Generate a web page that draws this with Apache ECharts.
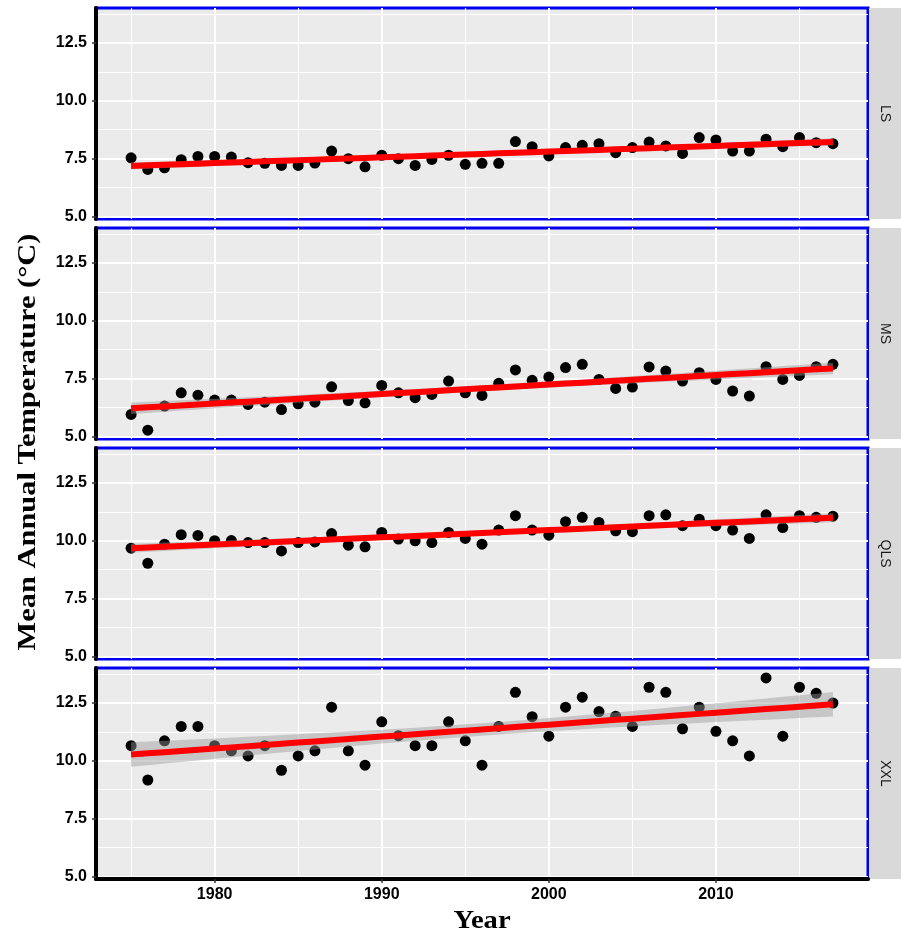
<!DOCTYPE html>
<html><head><meta charset="utf-8">
<script src="https://cdn.jsdelivr.net/npm/echarts@6/dist/echarts.min.js"></script>
<style>html,body{margin:0;padding:0;background:#fff}#c{width:901px;height:934px}</style>
</head><body><div id="c"></div>
<script>
// ---------- data ----------
const years = [1975,1976,1977,1978,1979,1980,1981,1982,1983,1984,1985,1986,1987,1988,1989,1990,1991,1992,1993,1994,1995,1996,1997,1998,1999,2000,2001,2002,2003,2004,2005,2006,2007,2008,2009,2010,2011,2012,2013,2014,2015,2016,2017];
const panels = ['LS','MS','QLS','XXL'];
const LS  = [7.54,7.04,7.11,7.46,7.60,7.60,7.57,7.33,7.30,7.21,7.21,7.31,7.83,7.50,7.15,7.65,7.50,7.21,7.47,7.65,7.26,7.30,7.30,8.24,8.02,7.62,7.98,8.08,8.15,7.76,7.98,8.22,8.05,7.73,8.41,8.31,7.83,7.83,8.34,8.02,8.41,8.19,8.15];
const MS  = [5.96,5.28,6.32,6.89,6.79,6.58,6.58,6.39,6.49,6.17,6.42,6.49,7.15,6.56,6.46,7.21,6.89,6.68,6.82,7.40,6.89,6.78,7.30,7.88,7.43,7.57,7.98,8.12,7.47,7.08,7.14,8.01,7.83,7.40,7.76,7.47,6.97,6.75,8.02,7.47,7.64,8.02,8.12];
const QLS = [9.68,9.03,9.85,10.26,10.23,10.00,10.01,9.92,9.92,9.56,9.92,9.95,10.31,9.81,9.74,10.36,10.07,10.00,9.92,10.36,10.10,9.85,10.46,11.08,10.46,10.24,10.82,11.01,10.79,10.43,10.39,11.08,11.12,10.65,10.93,10.65,10.46,10.10,11.12,10.57,11.08,11.01,11.06];
const XXL = [10.65,9.17,10.86,11.48,11.48,10.65,10.43,10.21,10.65,9.59,10.21,10.43,12.31,10.43,9.81,11.68,11.08,10.65,10.65,11.68,10.86,9.81,11.48,12.95,11.90,11.06,12.31,12.74,12.12,11.92,11.48,13.17,12.95,11.38,12.31,11.27,10.86,10.21,13.57,11.06,13.17,12.91,12.49];
const yTicks = [5.0, 7.5, 10.0, 12.5];
const yMinor = [6.25, 8.75, 11.25, 13.75];
const xTicks = [1980, 1990, 2000, 2010];
const xMinor = [1975, 1985, 1995, 2005, 2015];
const yTitle = 'Mean Annual Temperature (°C)';
const xTitle = 'Year';
const seriesVals = [LS, MS, QLS, XXL];

// ---------- linear fit with 95% CI (like geom_smooth(method='lm')) ----------
function lmFit(xs, ys) {
  const n = xs.length;
  const xb = xs.reduce((a, b) => a + b, 0) / n;
  const yb = ys.reduce((a, b) => a + b, 0) / n;
  let sxx = 0, sxy = 0;
  for (let i = 0; i < n; i++) { sxx += (xs[i] - xb) ** 2; sxy += (xs[i] - xb) * (ys[i] - yb); }
  const b = sxy / sxx, a = yb - b * xb;
  let sse = 0;
  for (let i = 0; i < n; i++) sse += (ys[i] - (a + b * xs[i])) ** 2;
  const s = Math.sqrt(sse / (n - 2));
  const t = 2.0195; // t(0.975, df=41)
  return xs.map(x => {
    const yh = a + b * x;
    const se = s * Math.sqrt(1 / n + (x - xb) ** 2 / sxx);
    return { x, yh, lo: yh - t * se, hi: yh + t * se };
  });
}

// ---------- layout ----------
const L = 96, W = 772, H = 211, GAP = 220, T0 = 8;
const FONT = 'Liberation Sans, Arial, sans-serif';
const SERIF = 'Liberation Serif, Times New Roman, serif';

const grids = [], xAxes = [], yAxes = [], series = [], graphics = [];
panels.forEach((name, i) => {
  const top = T0 + GAP * i;
  const last = i === panels.length - 1;
  grids.push({ left: L, width: W, top: top, height: H, show: true,
    backgroundColor: '#EBEBEB', borderColor: '#0000F0', borderWidth: 3 });
  xAxes.push({ type: 'value', gridIndex: i, min: 1972.9, max: 2019.1, z: 3,
    splitLine: { show: false },
    axisLine: { show: last, onZero: false, lineStyle: { color: '#000', width: 4 } },
    axisTick: { show: last, customValues: xTicks, length: 4, lineStyle: { color: '#333', width: 1.5 } },
    axisLabel: { show: last, customValues: xTicks, margin: 8, formatter: v => String(v),
      color: '#000', fontWeight: 'bold', fontSize: 16, fontFamily: FONT } });
  yAxes.push({ type: 'value', gridIndex: i, min: 4.9, max: 14.0, z: 3,
    splitLine: { show: false },
    axisLine: { show: true, onZero: false, lineStyle: { color: '#000', width: 4 } },
    axisTick: { show: true, customValues: yTicks, length: 4, lineStyle: { color: '#333', width: 1.5 } },
    axisLabel: { customValues: yTicks, margin: 9, formatter: v => v.toFixed(1),
      color: '#000', fontWeight: 'bold', fontSize: 16, fontFamily: FONT } });

  const ys = seriesVals[i];
  const gridLines = [];
  yTicks.forEach(v => gridLines.push({ yAxis: v, lineStyle: { color: '#fff', width: 2, type: 'solid', opacity: 1 } }));
  yMinor.forEach(v => gridLines.push({ yAxis: v, lineStyle: { color: '#fff', width: 1.1, type: 'solid', opacity: 1 } }));
  xTicks.forEach(v => gridLines.push({ xAxis: v, lineStyle: { color: '#fff', width: 2, type: 'solid', opacity: 1 } }));
  xMinor.forEach(v => gridLines.push({ xAxis: v, lineStyle: { color: '#fff', width: 1.1, type: 'solid', opacity: 1 } }));

  series.push({ type: 'scatter', name: name, xAxisIndex: i, yAxisIndex: i, z: 3,
    symbol: 'circle', symbolSize: 11, itemStyle: { color: '#000', opacity: 1 },
    data: years.map((y, k) => [y, ys[k]]),
    markLine: { silent: true, z: 1, symbol: ['none', 'none'], animation: false,
      label: { show: false }, emphasis: { disabled: true }, data: gridLines } });

  const fit = lmFit(years, ys);
  series.push({ type: 'custom', xAxisIndex: i, yAxisIndex: i, z: 4, silent: true,
    data: fit.map(f => [f.x, f.lo, f.hi]),
    encode: { x: 0, y: [1, 2] },
    renderItem: (params, api) => {
      if (params.dataIndex !== 0) return null;
      const pts = [];
      fit.forEach(f => pts.push(api.coord([f.x, f.hi])));
      for (let k = fit.length - 1; k >= 0; k--) pts.push(api.coord([fit[k].x, fit[k].lo]));
      return { type: 'polygon', shape: { points: pts }, style: { fill: 'rgba(153,153,153,0.45)' } };
    } });
  series.push({ type: 'line', xAxisIndex: i, yAxisIndex: i, z: 5,
    symbol: 'none', silent: true, lineStyle: { color: '#FF0000', width: 6 },
    data: fit.map(f => [f.x, f.yh]) });

  graphics.push({ type: 'rect', shape: { x: L + W + 1, y: top, width: 901 - (L + W + 1), height: H },
    style: { fill: '#D9D9D9' }, silent: true });
  graphics.push({ type: 'text', x: L + W + 17, y: top + H / 2, rotation: -Math.PI / 2,
    style: { text: name, fill: '#1A1A1A', font: '14px ' + FONT, align: 'center', verticalAlign: 'middle' } });
});

graphics.push({ type: 'text', x: 28, y: 442, rotation: Math.PI / 2, scaleX: 1.17,
  style: { text: yTitle, fill: '#000', font: 'bold 26px ' + SERIF, align: 'center', verticalAlign: 'middle' } });
graphics.push({ type: 'text', x: 482, y: 921, scaleX: 1.1,
  style: { text: xTitle, fill: '#000', font: 'bold 26px ' + SERIF, align: 'center', verticalAlign: 'middle' } });

const chart = echarts.init(document.getElementById('c'), null, { renderer: 'canvas' });
chart.setOption({
  animation: false,
  backgroundColor: '#fff',
  grid: grids, xAxis: xAxes, yAxis: yAxes, series: series, graphic: graphics
});
</script></body></html>
